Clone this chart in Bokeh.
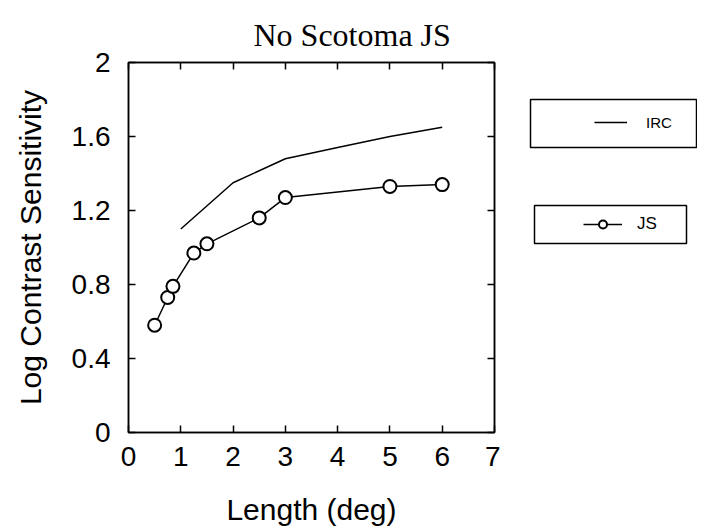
from bokeh.plotting import figure
from bokeh.models import Range1d, LinearAxis, FixedTicker, Legend, LegendItem, BoxAnnotation
from bokeh.layouts import row
from bokeh.embed import file_html
from bokeh.resources import INLINE

# data
irc_x = [1, 2, 3, 4, 5, 6]
irc_y = [1.10, 1.35, 1.48, 1.54, 1.60, 1.65]
js_x = [0.5, 0.75, 0.85, 1.25, 1.5, 2.5, 3.0, 5.0, 6.0]
js_y = [0.58, 0.73, 0.79, 0.97, 1.02, 1.16, 1.27, 1.33, 1.34]
x_ticks = [0, 1, 2, 3, 4, 5, 6, 7]
y_ticks = [0, 0.4, 0.8, 1.2, 1.6, 2]
y_tick_labels = ["0", "0.4", "0.8", "1.2", "1.6", "2"]

SANS = "Liberation Sans"
NAN = float("nan")

p = figure(width=500, height=531, output_backend="svg", toolbar_location=None,
           x_range=Range1d(0, 7), y_range=Range1d(0, 2),
           min_border_left=128, min_border_right=6, min_border_top=62, min_border_bottom=99)
p.background_fill_color = "white"
p.border_fill_color = "white"
p.grid.visible = False
p.outline_line_color = "black"
p.outline_line_width = 1.5

p.title.text = "No Scotoma JS"
p.title.text_font = "Liberation Serif"
p.title.text_font_size = "32px"
p.title.text_font_style = "normal"
p.title.text_color = "black"
p.title.align = "left"
p.title.offset = 125
p.title.vertical_align = "top"
p.title.standoff = 16

def style_axis(ax, show_labels):
    ax.axis_line_color = "black"
    ax.axis_line_width = 1.5
    ax.major_tick_in = 7
    ax.major_tick_out = 0
    ax.minor_tick_line_color = None
    ax.major_tick_line_color = "black"
    ax.major_tick_line_width = 1.5
    ax.major_label_text_font = SANS
    ax.major_label_text_color = "black"
    if show_labels:
        ax.major_label_text_font_size = "28px"
    else:
        ax.major_label_text_font_size = "1px"
        ax.major_label_standoff = 0

xa = p.xaxis[0]
xa.ticker = FixedTicker(ticks=x_ticks)
style_axis(xa, True)
xa.major_label_standoff = 14
xa.axis_label = "Length (deg)"
xa.axis_label_text_font = SANS
xa.axis_label_text_font_size = "30px"
xa.axis_label_text_font_style = "normal"
xa.axis_label_text_color = "black"
xa.axis_label_standoff = 24

ya = p.yaxis[0]
ya.ticker = FixedTicker(ticks=y_ticks)
style_axis(ya, True)
ya.major_label_overrides = {t: l for t, l in zip(y_ticks, y_tick_labels)}
ya.major_label_standoff = 18
ya.axis_label = "Log Contrast Sensitivity"
ya.axis_label_text_font = SANS
ya.axis_label_text_font_size = "30px"
ya.axis_label_text_font_style = "normal"
ya.axis_label_text_color = "black"
ya.axis_label_standoff = 22

top = LinearAxis(ticker=FixedTicker(ticks=x_ticks))
style_axis(top, False)
top.major_label_overrides = {t: "" for t in x_ticks}
p.add_layout(top, "above")

right = LinearAxis(ticker=FixedTicker(ticks=y_ticks))
style_axis(right, False)
right.major_label_overrides = {t: "" for t in y_ticks}
p.add_layout(right, "right")

p.line(irc_x, irc_y, line_color="black", line_width=1.5)
p.line(js_x, js_y, line_color="black", line_width=1.5)
p.scatter(js_x, js_y, marker="circle", size=13, line_color="black",
          line_width=2, fill_color="white")

# legend panel
q = figure(width=197, height=531, output_backend="svg", toolbar_location=None,
           x_range=Range1d(0, 1), y_range=Range1d(0, 1),
           min_border=0)
q.axis.visible = False
q.grid.visible = False
q.outline_line_color = None
q.background_fill_color = "white"
q.border_fill_color = "white"

# legend sample renderers (no visible data of their own)
l_irc = q.line([NAN], [NAN], line_color="black", line_width=1.5)
l_js = q.line([NAN], [NAN], line_color="black", line_width=1.5)
m_js = q.scatter([NAN], [NAN], marker="circle", size=9, line_color="black",
                 line_width=2, fill_color="white")

box_style = dict(left_units="canvas", right_units="canvas",
                 top_units="canvas", bottom_units="canvas",
                 fill_color=None, line_color="black", line_alpha=1.0, line_width=1.5)
q.add_layout(BoxAnnotation(left=30, right=196, top=99, bottom=147, **box_style))
q.add_layout(BoxAnnotation(left=34, right=186, top=205, bottom=243, **box_style))

leg1 = Legend(items=[LegendItem(label="IRC", renderers=[l_irc])],
              location=(94, 300), padding=0, margin=0, border_line_color=None,
              background_fill_alpha=0, glyph_width=33, glyph_height=20,
              label_height=20, label_standoff=19,
              label_text_font=SANS, label_text_font_size="15px",
              label_text_color="black")
leg2 = Legend(items=[LegendItem(label="JS", renderers=[l_js, m_js])],
              location=(83, 198), padding=0, margin=0, border_line_color=None,
              background_fill_alpha=0, glyph_width=39, glyph_height=20,
              label_height=20, label_standoff=15,
              label_text_font=SANS, label_text_font_size="17px",
              label_text_color="black")
q.add_layout(leg1, "center")
q.add_layout(leg2, "center")

layout = row(p, q)
open("out.html", "w").write(file_html(layout, INLINE))
